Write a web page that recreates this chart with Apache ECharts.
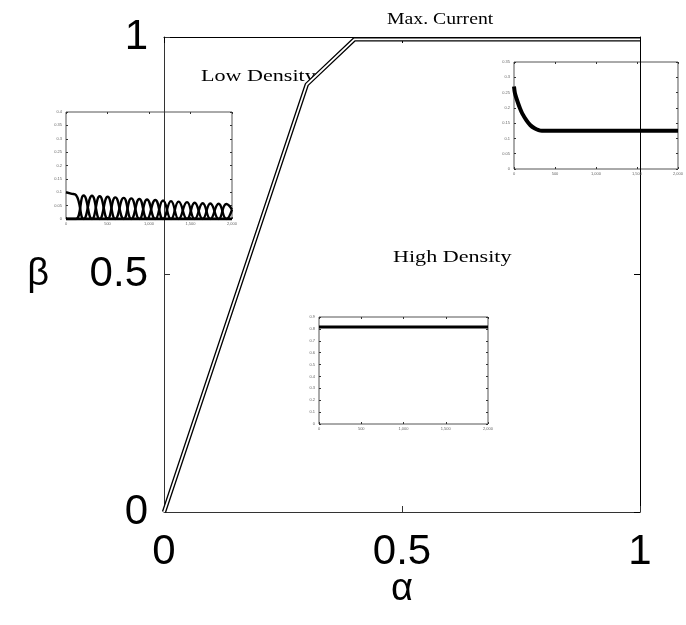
<!DOCTYPE html>
<html>
<head>
<meta charset="utf-8">
<script src="https://cdn.jsdelivr.net/npm/echarts@6/dist/echarts.min.js"></script>
<style>html,body{margin:0;padding:0;background:#fff}#c{width:686px;height:625px}</style>
</head>
<body>
<div id="c"></div>
<script>
// Main phase-diagram boundary
var boundaryAlpha = [0, 0.3, 0.4, 1];
var boundaryBeta  = [0, 0.9, 0.995, 0.995];
var mainTicks = ['0', '0.5', '1'];

// Low density inset (density profile vs site)
var lowX = [0, 60, 120, 213, 313, 406, 502, 594, 695, 787, 884, 976, 1076, 1169, 1265, 1357, 1458, 1550, 1647, 1739, 1839, 1932, 2000];
var lowA = [0.1, 0.095, 0.09, 0, 0.087, 0, 0.083, 0, 0.079, 0, 0.075, 0, 0.071, 0, 0.067, 0, 0.063, 0, 0.059, 0, 0.057, 0, 0.035];
var lowB = [0, 0, 0, 0.088, 0, 0.085, 0, 0.081, 0, 0.077, 0, 0.073, 0, 0.069, 0, 0.065, 0, 0.061, 0, 0.058, 0, 0.056, 0.035];
var lowBaseX = [0, 2000];
var lowBaseY = [0, 0];

// Max current inset
var maxX = [0, 10, 25, 50, 75, 100, 150, 200, 250, 300, 340, 500, 1000, 1500, 2000];
var maxY = [0.27, 0.25, 0.235, 0.215, 0.197, 0.182, 0.16, 0.143, 0.133, 0.127, 0.125, 0.125, 0.125, 0.125, 0.125];

// High density inset
var highX = [0, 500, 1000, 1500, 2000];
var highY = [0.815, 0.815, 0.815, 0.815, 0.815];

function pairs(xs, ys){ return xs.map(function(x,i){return [x, ys[i]];}); }

var chart = echarts.init(document.getElementById('c'), null, {renderer:'canvas'});

var insetGrids = [
  {left:66, top:112, width:166, height:107},
  {left:514, top:62, width:166, height:107},
  {left:319, top:317, width:169, height:107}
];
var insetY = [
  {max:0.4, interval:0.05},
  {max:0.35, interval:0.05},
  {max:0.9, interval:0.1}
];

var grids = [{left:164, top:37, width:476, height:475}];
insetGrids.forEach(function(g){
  grids.push({left:g.left, top:g.top, width:g.width, height:g.height, show:true, borderColor:'#555', borderWidth:1, backgroundColor:'transparent'});
});

var sans = 'Liberation Sans, Arial, sans-serif';
function tickFmt(v){ return mainTicks[Math.round(v*2)]; }
var xAxes = [
  {gridIndex:0, type:'value', min:0, max:1, interval:0.5, position:'bottom',
   axisLine:{onZero:false, lineStyle:{color:'#333', width:1}}, axisTick:{inside:true, length:6, lineStyle:{color:'#333'}},
   axisLabel:{fontSize:42, fontFamily:sans, color:'#000', margin:19, formatter:tickFmt},
   splitLine:{show:false},
   name:'α', nameLocation:'middle', nameGap:59, nameMoveOverlap:false, nameTextStyle:{fontSize:38, fontFamily:sans, color:'#000'}},
  {gridIndex:0, type:'value', min:0, max:1, interval:0.5, position:'top',
   axisLine:{onZero:false, lineStyle:{color:'#000', width:1}}, axisTick:{inside:true, length:6, lineStyle:{color:'#000'}},
   axisLabel:{show:false}, splitLine:{show:false}}
];
var yAxes = [
  {gridIndex:0, type:'value', min:0, max:1, interval:0.5, position:'left',
   axisLine:{onZero:false, lineStyle:{color:'#333', width:1}}, axisTick:{inside:true, length:6, lineStyle:{color:'#333'}},
   axisLabel:{fontSize:42, fontFamily:sans, color:'#000', margin:16, formatter:tickFmt},
   splitLine:{show:false},
   name:'β', nameLocation:'middle', nameGap:115, nameRotate:0, nameMoveOverlap:false, nameTextStyle:{fontSize:38, fontFamily:sans, color:'#000'}},
  {gridIndex:0, type:'value', min:0, max:1, interval:0.5, position:'right',
   axisLine:{onZero:false, lineStyle:{color:'#000', width:1}}, axisTick:{inside:true, length:6, lineStyle:{color:'#000'}},
   axisLabel:{show:false}, splitLine:{show:false}}
];
insetGrids.forEach(function(g, i){
  var gi = i+1;
  xAxes.push({gridIndex:gi, type:'value', min:0, max:2000, interval:500, position:'bottom',
    axisLine:{show:false, onZero:false}, axisTick:{inside:true, length:2, lineStyle:{color:'#333'}},
    axisLabel:{fontSize:4, color:'#666', margin:3, fontFamily:sans}, splitLine:{show:false}});
  xAxes.push({gridIndex:gi, type:'value', min:0, max:2000, interval:500, position:'top',
    axisLine:{show:false, onZero:false}, axisTick:{inside:true, length:2, lineStyle:{color:'#333'}},
    axisLabel:{show:false}, splitLine:{show:false}});
  yAxes.push({gridIndex:gi, type:'value', min:0, max:insetY[i].max, interval:insetY[i].interval, position:'left',
    axisLine:{show:false, onZero:false}, axisTick:{inside:true, length:2, lineStyle:{color:'#333'}},
    axisLabel:{fontSize:4, color:'#666', margin:4, fontFamily:sans}, splitLine:{show:false}});
  yAxes.push({gridIndex:gi, type:'value', min:0, max:insetY[i].max, interval:insetY[i].interval, position:'right',
    axisLine:{show:false, onZero:false}, axisTick:{inside:true, length:2, lineStyle:{color:'#333'}},
    axisLabel:{show:false}, splitLine:{show:false}});
});
function ins(k){ return {xAxisIndex:2*k, yAxisIndex:2*k}; }

var series = [
  {type:'line', xAxisIndex:0, yAxisIndex:0, data:pairs(boundaryAlpha, boundaryBeta), showSymbol:false, symbol:'none',
   lineStyle:{color:'#000', width:4.4}, z:5, animation:false},
  {type:'line', xAxisIndex:0, yAxisIndex:0, data:pairs(boundaryAlpha, boundaryBeta), showSymbol:false, symbol:'none',
   lineStyle:{color:'#fff', width:1.8}, z:6, animation:false}
];
function addLine(k, xs, ys, w, smooth){
  var o = ins(k);
  series.push({type:'line', xAxisIndex:o.xAxisIndex, yAxisIndex:o.yAxisIndex, data:pairs(xs, ys),
    symbol:'none', smooth:smooth||false, lineStyle:{color:'#000', width:w}, z:3, animation:false});
}
addLine(1, lowX, lowA, 2.4, 0.5);
addLine(1, lowX, lowB, 2.4, 0.5);
addLine(1, lowBaseX, lowBaseY, 3);
addLine(2, maxX, maxY, 4, 0.3);
addLine(3, highX, highY, 3);

var serif = 'Liberation Serif, Times New Roman, serif';
function label(text, x, y, sx){
  return {type:'text', x:x, y:y, scaleX:sx, style:{text:text, font:'17px '+serif, fill:'#000', verticalAlign:'middle', align:'left'}};
}
chart.setOption({
  animation:false,
  backgroundColor:'#fff',
  grid:grids, xAxis:xAxes, yAxis:yAxes, series:series,
  graphic:[
    label('Max. Current', 387, 20, 1.16),
    label('Low Density', 201, 77, 1.3),
    label('High Density', 393, 258, 1.3)
  ]
});
</script>
</body>
</html>
